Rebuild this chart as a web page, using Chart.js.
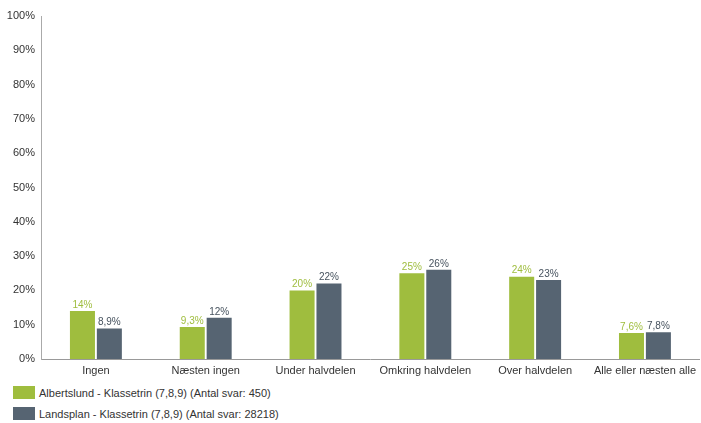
<!DOCTYPE html>
<html><head><meta charset="utf-8">
<script src="https://cdn.jsdelivr.net/npm/chart.js@4/dist/chart.umd.min.js"></script>
<style>
html,body{margin:0;padding:0;background:#fff;width:701px;height:423px;overflow:hidden;font-family:"Liberation Sans",Arial,sans-serif;}
#wrap{position:absolute;left:0;top:0;width:701px;height:382px;}
#legend{position:absolute;left:13px;top:382px;font-size:11px;color:#333;}
.li{height:21px;display:flex;align-items:center;}
.sw{width:22px;height:13px;margin-right:4px;}
</style></head><body>
<div id="wrap"><canvas id="c" width="701" height="382"></canvas></div>
<div id="legend"></div>
<script>
const categories = ["Ingen","Næsten ingen","Under halvdelen","Omkring halvdelen","Over halvdelen","Alle eller næsten alle"];
const seriesNames = ["Albertslund - Klassetrin (7,8,9) (Antal svar: 450)","Landsplan - Klassetrin (7,8,9) (Antal svar: 28218)"];
const albertslund = [14, 9.3, 20, 25, 24, 7.6];
const landsplan = [8.9, 12, 22, 26, 23, 7.8];
const yTicks = [0,10,20,30,40,50,60,70,80,90,100];
const colors = ["#9fbd3e","#566472"];
const labelColors = ["#9fbd3e","#46525e"];

const fmt = v => (Number.isInteger(v) ? String(v) : String(v).replace('.', ',')) + '%';

const labelPlugin = {
  id:'barLabels',
  afterDatasetsDraw(chart){
    const ctx = chart.ctx;
    ctx.save();
    ctx.font = '10px "Liberation Sans", Arial, sans-serif';
    ctx.textAlign = 'center';
    ctx.textBaseline = 'bottom';
    chart.data.datasets.forEach((ds, i) => {
      const meta = chart.getDatasetMeta(i);
      ctx.fillStyle = labelColors[i];
      meta.data.forEach((el, j) => {
        ctx.fillText(fmt(ds.data[j]), el.x, el.y - 1);
      });
    });
    ctx.restore();
  }
};

new Chart(document.getElementById('c'), {
  type:'bar',
  data:{
    labels: categories,
    datasets:[
      {label:seriesNames[0], data:albertslund, backgroundColor:colors[0], categoryPercentage:0.49, barPercentage:0.93},
      {label:seriesNames[1], data:landsplan, backgroundColor:colors[1], categoryPercentage:0.49, barPercentage:0.93}
    ]
  },
  options:{
    responsive:false,
    animation:false,
    layout:{padding:{top:16,right:0,left:0,bottom:0}},
    plugins:{legend:{display:false},tooltip:{enabled:false}},
    scales:{
      x:{
        grid:{display:false, drawTicks:false},
        border:{color:'#999'},
        ticks:{color:'#333', font:{family:'"Liberation Sans", Arial, sans-serif', size:11}, padding:5, maxRotation:0, autoSkip:false},
        afterFit(s){ s.height = 23; }
      },
      y:{
        min:0, max:100,
        afterBuildTicks(s){ s.ticks = yTicks.map(v=>({value:v})); },
        grid:{display:false, drawTicks:false},
        border:{color:'#aaa'},
        ticks:{color:'#333', font:{family:'"Liberation Sans", Arial, sans-serif', size:11}, padding:6, callback:v=>v+'%'},
        afterFit(s){ s.width = 41; }
      }
    }
  },
  plugins:[labelPlugin]
});

const lg = document.getElementById('legend');
seriesNames.forEach((n,i)=>{
  const d = document.createElement('div'); d.className='li';
  d.innerHTML = '<div class="sw" style="background:'+colors[i]+'"></div><span>'+n+'</span>';
  lg.appendChild(d);
});
</script>
</body></html>
